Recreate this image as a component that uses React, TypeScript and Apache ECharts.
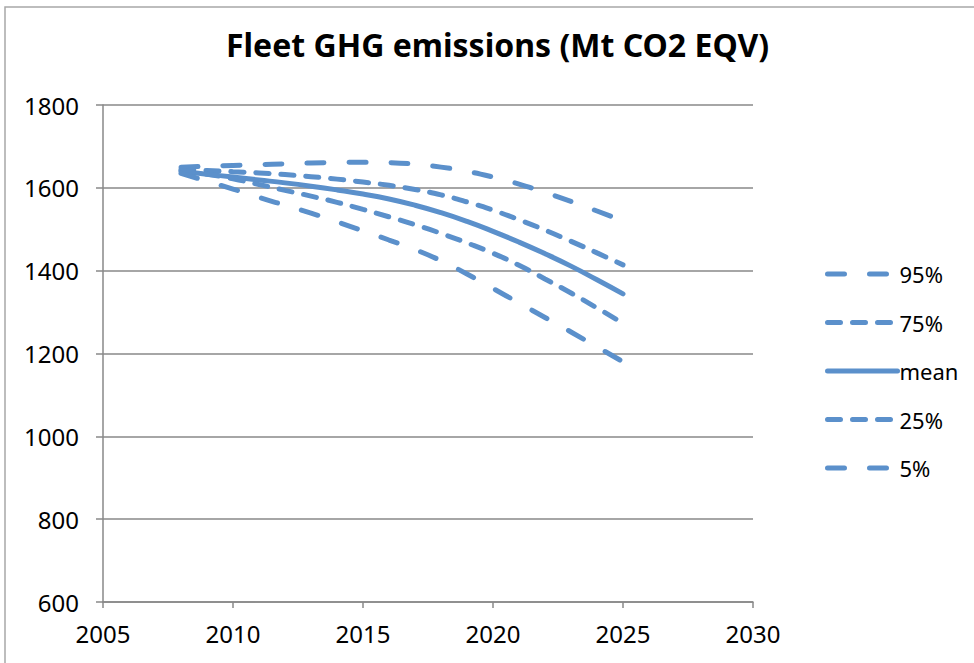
import React, { useEffect, useRef } from "react";
import * as echarts from "echarts";

const years = [2008, 2009, 2010, 2011, 2012, 2013, 2014, 2015, 2016, 2017, 2018, 2019, 2020, 2021, 2022, 2023, 2024, 2025];
const p95 = [1650, 1652, 1654, 1656, 1658, 1660, 1661, 1662, 1661, 1657, 1650, 1640, 1626, 1609, 1589, 1567, 1544, 1520];
const p75 = [1645, 1642, 1639, 1636, 1632, 1627, 1621, 1614, 1606, 1596, 1583, 1566, 1546, 1523, 1498, 1471, 1443, 1414];
const mean = [1640, 1633, 1626, 1619, 1612, 1604, 1595, 1585, 1573, 1558, 1540, 1519, 1495, 1469, 1441, 1411, 1378, 1344];
const p25 = [1642, 1633, 1622, 1608, 1594, 1580, 1565, 1548, 1530, 1511, 1490, 1467, 1442, 1413, 1380, 1346, 1310, 1273];
const p5 = [1635, 1616, 1597, 1577, 1558, 1539, 1518, 1496, 1474, 1451, 1424, 1392, 1357, 1322, 1287, 1252, 1216, 1180];

const seriesNames = ["95%", "75%", "mean", "25%", "5%"];
const seriesValues = [p95, p75, mean, p25, p5];
const dashes: (number[] | "solid")[] = [[17, 25], [13, 12], "solid", [13, 12], [17, 25]];

const COLOR = "#5B90CB";
const FONT = "Noto Sans";

export default function App() {
  const ref = useRef<HTMLDivElement>(null);
  useEffect(() => {
    if (!ref.current) return;
    const chart = echarts.init(ref.current, undefined, { renderer: "svg" });
    chart.setOption({
      animation: false,
      backgroundColor: "#ffffff",
      title: {
        text: "Fleet GHG emissions (Mt CO2 EQV)",
        left: 226,
        top: 28,
        padding: 0,
        textStyle: { fontFamily: FONT, fontSize: 32, fontWeight: "bold", color: "#000000" },
      },
      graphic: [
        {
          type: "rect",
          shape: { x: 5, y: 7, width: 1000, height: 1000 },
          style: { fill: "none", stroke: "#A8A8A8", lineWidth: 1.5 },
          silent: true,
        },
      ],
      legend: {
        orient: "vertical",
        left: 820,
        top: 258,
        itemWidth: 70,
        itemHeight: 14,
        itemGap: 26.5,
        data: seriesNames,
        itemStyle: { opacity: 0 },
        lineStyle: { width: 5, cap: "round" },
        textStyle: { fontFamily: FONT, fontSize: 22, color: "#000000", padding: [0, 0, 0, -3] },
      },
      grid: { left: 103, right: 221, top: 105, bottom: 61, containLabel: false },
      xAxis: {
        type: "value",
        min: 2005,
        max: 2030,
        interval: 5,
        axisLine: { show: true, lineStyle: { color: "#888888", width: 1.5 } },
        axisTick: { show: true, length: 6, lineStyle: { color: "#888888", width: 1.5 } },
        splitLine: { show: false },
        axisLabel: { margin: 19, fontFamily: FONT, fontSize: 24, color: "#000000", formatter: (v: number) => String(v) },
      },
      yAxis: {
        type: "value",
        min: 600,
        max: 1800,
        interval: 200,
        axisLine: { show: true, lineStyle: { color: "#888888", width: 1.5 } },
        axisTick: { show: true, length: 7, lineStyle: { color: "#888888", width: 1.5 } },
        splitLine: { show: true, lineStyle: { color: "#888888", width: 1.5 } },
        axisLabel: { margin: 24, fontFamily: FONT, fontSize: 24, color: "#000000", formatter: (v: number) => String(v) },
      },
      series: seriesNames.map((name, i) => ({
        name,
        type: "line",
        smooth: true,
        symbol: "none",
        showSymbol: false,
        color: COLOR,
        lineStyle: { color: COLOR, width: 5, type: dashes[i], cap: "round" },
        data: years.map((y, j) => [y, seriesValues[i][j]]),
      })),
    });
    return () => chart.dispose();
  }, []);
  return <div ref={ref} style={{ position: "fixed", left: 0, top: 0, width: 974, height: 663 }} />;
}
